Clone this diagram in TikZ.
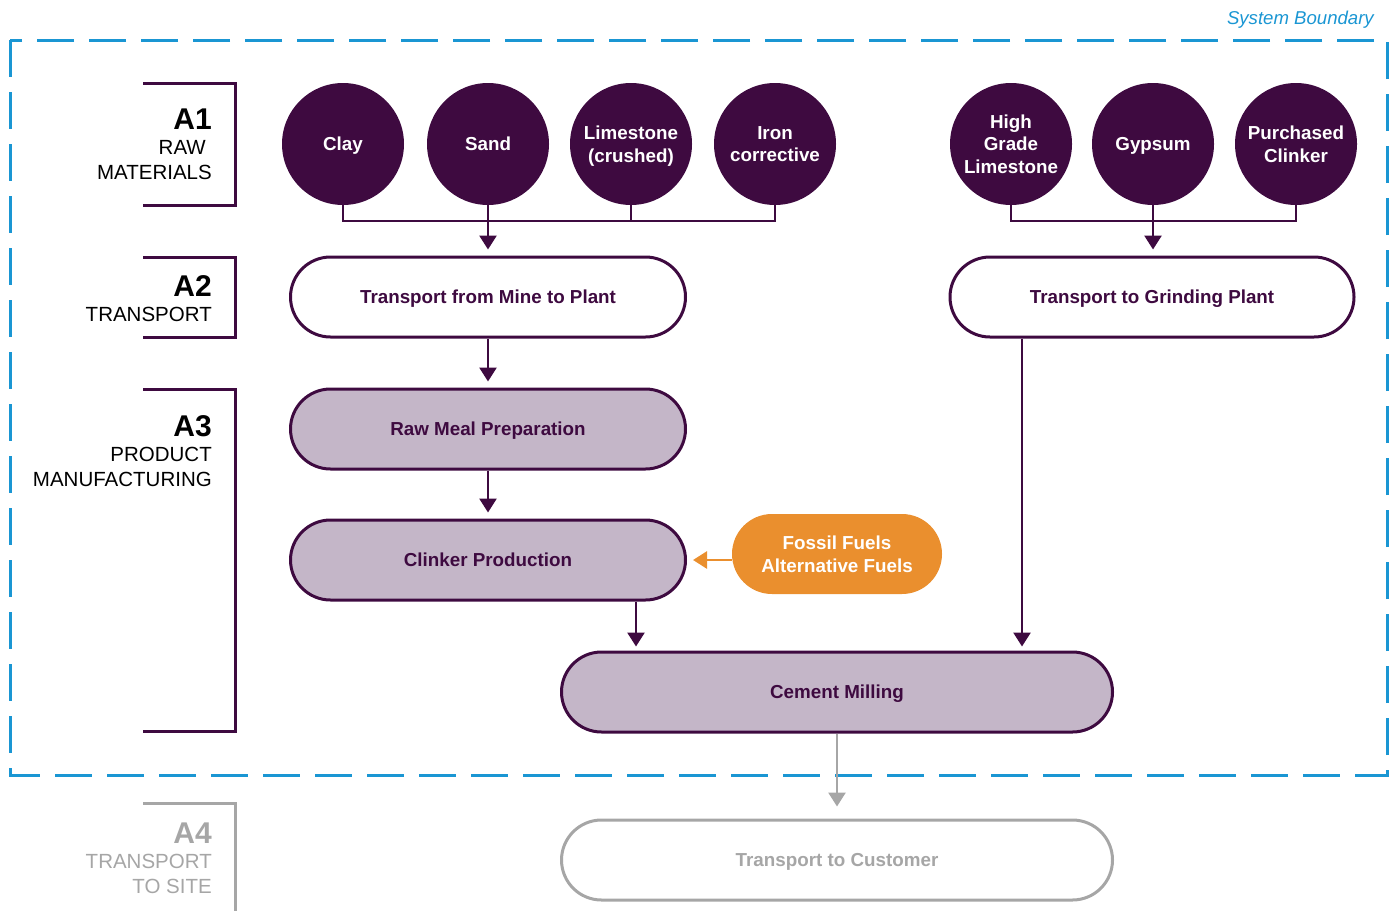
\documentclass[tikz,border=0pt]{standalone}
\usepackage{fontspec}
\setmainfont{Liberation Sans}
\usetikzlibrary{arrows.meta,calc}
\definecolor{dpurple}{HTML}{3E0A40}
\definecolor{mauve}{HTML}{C4B6C8}
\definecolor{forange}{HTML}{EA8F2E}
\definecolor{sbblue}{HTML}{1A96D3}
\definecolor{lgray}{HTML}{A6A6A6}
\begin{document}
\begin{tikzpicture}[x=1pt,y=-1pt,
  raw/.style={circle,fill=dpurple,minimum size=122pt,inner sep=0pt,text=white,font=\fontsize{18.8}{22.5}\selectfont\bfseries,align=center,text depth=0pt},
  procbox/.style={rectangle,rounded corners=40pt,draw=dpurple,line width=3pt,minimum height=80pt,text=dpurple,font=\fontsize{18.8}{22}\selectfont\bfseries,align=center,text depth=0pt},
  wbox/.style={procbox,fill=white},
  mbox/.style={procbox,fill=mauve},
  conn/.style={draw=dpurple,line width=2.7pt},
  arr/.style={conn,-{Triangle[width=17pt,length=14pt]},shorten >=6pt},
  brk/.style={draw=dpurple,line width=3pt},
  stage/.style={anchor=east,align=right,inner sep=0pt,font=\fontsize{20.5}{25}\selectfont},
  stagenum/.style={anchor=east,inner sep=0pt,font=\fontsize{30}{30}\selectfont\bfseries}
]
\useasboundingbox (0,0) rectangle (1394,910);
% system boundary
\draw[sbblue,line width=3pt,dash pattern=on 37pt off 15pt] (10,40) rectangle (1387,775);
\node[anchor=east,inner sep=0pt,text=sbblue,font=\fontsize{18.6}{20}\selectfont\itshape] (sb) at (1374,20) {System Boundary};

% stage brackets
\draw[brk] (143,83) -- (235,83) -- (235,205) -- (143,205);
\node[stagenum] (a1) at (212,119) {A1};
\node[stage] (a1t) at (212,160) {RAW\hspace*{6pt}\\MATERIALS};
\draw[brk] (143,257) -- (235,257) -- (235,337) -- (143,337);
\node[stagenum] (a2) at (212,286) {A2};
\node[stage] (a2t) at (212,314) {TRANSPORT};
\draw[brk] (143,389) -- (235,389) -- (235,731) -- (143,731);
\node[stagenum] (a3) at (212,426) {A3};
\node[stage] (a3t) at (212,467) {PRODUCT\\MANUFACTURING};
\draw[brk,draw=lgray] (143,803) -- (235,803) -- (235,915);
\node[stagenum,text=lgray] (a4) at (212,833) {A4};
\node[stage,text=lgray] (a4t) at (212,874) {TRANSPORT\\TO SITE};

% raw materials
\node[raw] (clay) at (343,144) {Clay};
\node[raw] (sand) at (488,144) {Sand};
\node[raw] (lime) at (631,144) {Limestone\\(crushed)};
\node[raw] (iron) at (775,144) {Iron\\corrective};
\node[raw] (hgl) at (1011,144) {High\\Grade\\Limestone};
\node[raw] (gyp) at (1153,144) {Gypsum};
\node[raw] (pcl) at (1296,144) {Purchased\\Clinker};

% process boxes
\node[wbox,minimum width=395pt] (tmp) at (488,297) {Transport from Mine to Plant};
\node[wbox,minimum width=404pt] (tgp) at (1152,297) {Transport to Grinding Plant};
\node[mbox,minimum width=395pt] (rmp) at (488,429) {Raw Meal Preparation};
\node[mbox,minimum width=395pt] (clk) at (488,560) {Clinker Production};
\node[rectangle,rounded corners=40pt,fill=forange,minimum width=210pt,minimum height=80pt,text=white,font=\fontsize{18.8}{23}\selectfont\bfseries,align=center,text depth=0pt] (fuel) at (837,554) {Fossil Fuels\\Alternative Fuels};
\node[mbox,minimum width=551pt] (cem) at (837,692) {Cement Milling};
\node[procbox,fill=white,draw=lgray,text=lgray,minimum width=551pt] (cust) at (837,860) {Transport to Customer};

% connectors
\coordinate (j1) at (488,221);
\coordinate (j2) at (1155,221);
\draw[conn] (clay.south) |- (j1) -| (iron.south);
\draw[conn] (lime.south) -- (lime.south |- j1);
\draw[arr] (sand.south) -- (tmp.north);
\draw[conn] (hgl.south) |- (j2) -| (pcl.south);
\draw[arr] (gyp.south) -- (tgp.north -| gyp.south);
\draw[arr] (tmp.south) -- (rmp.north);
\draw[arr] (rmp.south) -- (clk.north);
\coordinate (x1) at (636,0);
\coordinate (x2) at (1022,0);
\draw[arr,shorten >=4pt] (clk.south -| x1) -- (cem.north -| x1);
\draw[arr,shorten >=4pt] (tgp.south -| x2) -- (cem.north -| x2);
\draw[forange,line width=2.7pt,-{Triangle[width=17pt,length=14pt]},shorten >=6pt] (fuel.west |- clk.east) -- (clk.east);
\draw[lgray,line width=2.7pt,-{Triangle[width=17pt,length=14pt]},shorten >=12pt] (cem.south) -- (cust.north);
\end{tikzpicture}
\end{document}
